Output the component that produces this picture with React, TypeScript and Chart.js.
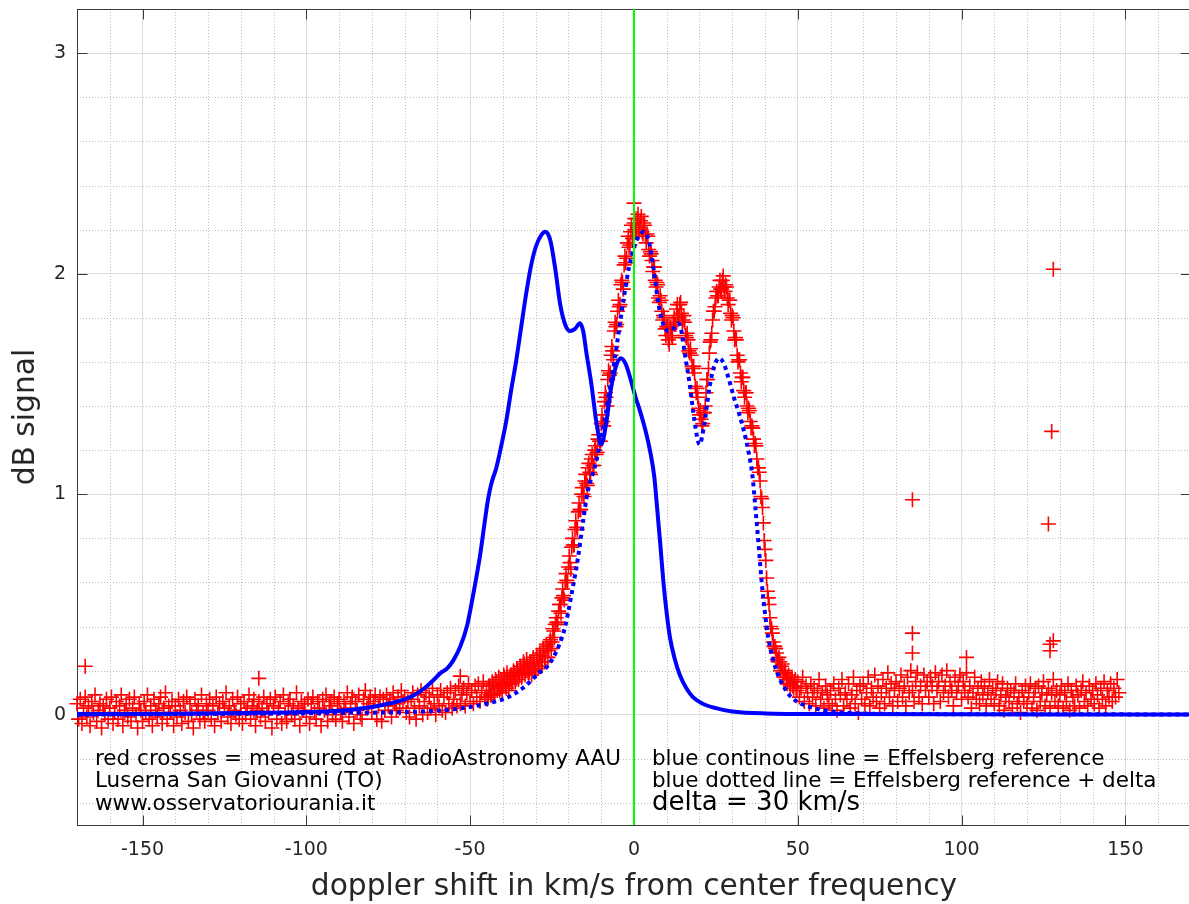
import React, { useEffect, useRef } from 'react';
import { Chart, registerables } from 'chart.js';

Chart.register(...registerables);

// ---- axes ----
const X_MIN = -170;
const X_MAX = 170;
const Y_MIN = -0.5;
const Y_MAX = 3.2;
const X_TICKS = [-150, -100, -50, 0, 50, 100, 150];
const Y_TICKS = [0, 1, 2, 3];

// ---- Effelsberg reference (blue continuous) ----
const DELTA = 30; // km/s shift for the dotted line
const REF_X = [-200, -170, -140, -120, -100, -90, -85, -80, -75, -70, -67, -64, -61, -59, -57, -55, -53, -51, -49, -47,
  -45.5, -44.5, -43.5, -42, -40.5, -39, -37.5, -36, -34.5, -33, -31.5, -30, -28.5, -27, -25.5, -24, -22.5, -21, -19.5, -18,
  -16.5, -15.5, -14.5, -13, -11.5, -10, -8.5, -7, -5.5, -4, -2.5, -1, 0.5, 2, 3.5, 5, 6.2, 7, 8, 9,
  10, 11, 12.5, 14, 16, 18, 21, 25, 30, 40, 60, 100, 170];
const REF_Y = [0, 0.003, 0.005, 0.008, 0.012, 0.018, 0.025, 0.035, 0.05, 0.07, 0.09, 0.12, 0.16, 0.19, 0.21, 0.25, 0.31, 0.40, 0.55, 0.72,
  0.88, 0.98, 1.05, 1.12, 1.22, 1.33, 1.47, 1.60, 1.75, 1.90, 2.03, 2.12, 2.17, 2.19, 2.15, 2.02, 1.86, 1.77, 1.74, 1.75,
  1.775, 1.74, 1.64, 1.50, 1.33, 1.226, 1.32, 1.48, 1.58, 1.617, 1.59, 1.52, 1.44, 1.37, 1.29, 1.19, 1.08, 0.95, 0.78, 0.60,
  0.46, 0.35, 0.25, 0.18, 0.12, 0.08, 0.05, 0.03, 0.015, 0.006, 0.003, 0.002, 0.001];

// ---- zero-shift marker (green vertical line) ----
const ZERO_X = [0, 0];
const ZERO_Y = [Y_MIN, Y_MAX];

// ---- measured data (red crosses), sampled every RED_STEP km/s ----
const RED_STEP = 0.5;
const RED_A_START = -170;
const RED_A = [
  0.05, -0.02, 0.07, -0.04, 0.03, 0.08, -0.01, 0.04, -0.05, 0.06, 0.01, 0.09, -0.03, 0.02, 0.05, -0.06, 0.04, 0.00, 0.07, -0.02,
  0.03, 0.08, -0.04, 0.01, 0.06, -0.02, 0.04, 0.09, -0.05, 0.02, 0.05, -0.01, 0.07, -0.03, 0.03, 0.08, 0.00, -0.06, 0.05, 0.02,
  -0.03, 0.06, 0.01, 0.09, -0.02, 0.04, -0.05, 0.07, 0.02, -0.01, 0.05, 0.08, -0.04, 0.03, 0.10, -0.02, 0.04, 0.01, 0.06, -0.05,
  0.04, -0.01, 0.07, 0.02, -0.04, 0.06, 0.01, 0.08, -0.03, 0.05, 0.00, -0.06, 0.07, 0.02, 0.04, -0.02, 0.09, 0.01, -0.03, 0.05,
  0.02, 0.07, -0.02, 0.04, -0.05, 0.08, 0.01, 0.05, -0.03, 0.06, 0.03, 0.10, -0.01, 0.04, -0.04, 0.07, 0.02, 0.00, 0.08, -0.02,
  0.05, -0.04, 0.06, 0.00, 0.03, 0.09, -0.02, 0.04, 0.07, -0.05, 0.02, 0.06, -0.01, 0.03, 0.08, -0.03, 0.05, 0.01, 0.07, -0.06,
  0.04, 0.08, -0.02, 0.03, 0.06, -0.04, 0.09, 0.01, -0.03, 0.05, 0.07, 0.00, 0.04, -0.02, 0.10, 0.03, -0.05, 0.06, 0.02, 0.05,
  -0.01, 0.07, -0.04, 0.05, 0.08, 0.01, -0.02, 0.06, 0.03, -0.05, 0.07, 0.02, 0.09, -0.03, 0.04, 0.06, 0.00, 0.08, -0.02, 0.05,
  0.07, 0.01, -0.03, 0.06, 0.03, 0.10, -0.01, 0.05, 0.08, -0.04, 0.06, 0.02, 0.09, 0.00, -0.02, 0.07, 0.11, 0.03, 0.05, 0.08,
  0.01, 0.06, 0.09, -0.02, 0.04, 0.08, -0.03, 0.07, 0.02, 0.09, 0.04, 0.07, -0.01, 0.10, 0.05, 0.02, 0.08, 0.03, 0.11, 0.06,
];
const RED_B_START = -70;
const RED_B = [
  0.08, 0.01, 0.06, -0.01, 0.07, 0.10, 0.03, -0.02, 0.09, 0.04, 0.11, 0.00, 0.06, 0.10, 0.01, 0.08, 0.03, 0.12, 0.05, 0.00,
  0.09, 0.04, 0.11, 0.02, 0.08, 0.01, 0.10, 0.05, 0.12, 0.03, 0.07, 0.11, 0.04, 0.13, 0.05, 0.09, 0.12, 0.04, 0.10, 0.14,
  0.06, 0.11, 0.05, 0.13, 0.08, 0.14, 0.06, 0.10, 0.15, 0.08,
];
const RED_C_START = -45;
const RED_C = [
  0.11, 0.08, 0.13, 0.09, 0.14, 0.10, 0.15, 0.12, 0.11, 0.16, 0.13, 0.17, 0.12, 0.16, 0.14, 0.18, 0.15, 0.19, 0.16, 0.20,
  0.18, 0.21, 0.19, 0.23, 0.20, 0.22, 0.19, 0.24, 0.21, 0.23, 0.20, 0.25, 0.22, 0.27, 0.24, 0.29, 0.26, 0.31, 0.29, 0.34,
  0.33, 0.38, 0.41, 0.42, 0.47, 0.50, 0.53, 0.54, 0.60, 0.61, 0.67, 0.69, 0.76, 0.77, 0.84, 0.85, 0.92, 0.93, 1.00, 1.00,
  1.06, 1.05, 1.12, 1.10, 1.16, 1.13, 1.20, 1.18, 1.25, 1.24, 1.32, 1.33, 1.42, 1.44, 1.52, 1.54, 1.63, 1.65, 1.74, 1.76,
  1.83, 1.85, 1.95, 1.96, 2.04, 2.05, 2.14, 2.12, 2.19, 2.16, 2.23, 2.19, 2.25, 2.20, 2.24, 2.19, 2.23, 2.17, 2.18, 2.11,
  2.10, 2.06, 2.03, 1.97, 1.96, 1.89, 1.90, 1.83, 1.81, 1.75, 1.76, 1.70, 1.75, 1.72, 1.78, 1.77, 1.84, 1.81, 1.86, 1.82,
  1.79, 1.78, 1.71, 1.70, 1.64, 1.63, 1.57, 1.55, 1.46, 1.44, 1.36, 1.34, 1.32, 1.37, 1.46, 1.52, 1.64, 1.70, 1.79, 1.83,
  1.89, 1.90, 1.94, 1.93, 1.97, 1.94, 1.95, 1.89, 1.88, 1.82, 1.81, 1.74, 1.71, 1.63, 1.61, 1.55, 1.53, 1.47, 1.46, 1.40,
  1.39, 1.33, 1.31, 1.25, 1.23, 1.16, 1.12, 1.06, 0.98, 0.87, 0.75, 0.62, 0.53, 0.44, 0.39, 0.33, 0.31, 0.28, 0.24, 0.24,
  0.22, 0.19, 0.20, 0.16, 0.17, 0.14, 0.16, 0.13, 0.15, 0.12,
];
// second pass of the core, interleaved a quarter-step later
const RED_C2_START = -44.75;
const RED_C2 = [
  0.07, 0.13, 0.09, 0.15, 0.10, 0.16, 0.11, 0.17, 0.12, 0.10, 0.18, 0.13, 0.19, 0.11, 0.17, 0.14, 0.20, 0.15, 0.21, 0.16,
  0.22, 0.17, 0.24, 0.18, 0.25, 0.19, 0.24, 0.18, 0.26, 0.20, 0.27, 0.21, 0.28, 0.22, 0.30, 0.24, 0.32, 0.26, 0.33, 0.30,
  0.39, 0.35, 0.44, 0.41, 0.50, 0.46, 0.57, 0.52, 0.64, 0.60, 0.72, 0.66, 0.80, 0.77, 0.88, 0.84, 0.96, 0.93, 1.03, 0.99,
  1.09, 1.04, 1.14, 1.09, 1.18, 1.13, 1.22, 1.19, 1.27, 1.24, 1.36, 1.31, 1.46, 1.40, 1.56, 1.55, 1.67, 1.61, 1.78, 1.77,
  1.88, 1.86, 1.97, 1.93, 2.08, 2.07, 2.17, 2.13, 2.22, 2.17, 2.25, 2.20, 2.27, 2.21, 2.26, 2.18, 2.22, 2.14, 2.17, 2.08,
  2.09, 2.01, 2.03, 1.94, 1.95, 1.87, 1.88, 1.79, 1.80, 1.72, 1.76, 1.68, 1.76, 1.71, 1.80, 1.77, 1.86, 1.80, 1.87, 1.78,
  1.81, 1.72, 1.73, 1.65, 1.66, 1.58, 1.58, 1.49, 1.48, 1.39, 1.38, 1.31, 1.37, 1.40, 1.52, 1.57, 1.69, 1.73, 1.83, 1.85,
  1.92, 1.90, 1.97, 1.93, 1.99, 1.92, 1.94, 1.86, 1.88, 1.79, 1.80, 1.70, 1.70, 1.60, 1.61, 1.51, 1.53, 1.44, 1.46, 1.37,
  1.38, 1.30, 1.30, 1.22, 1.22, 1.12, 1.10, 0.99, 0.94, 0.79, 0.70, 0.56, 0.50, 0.40, 0.37, 0.31, 0.30, 0.25, 0.26, 0.20,
  0.23, 0.17, 0.19, 0.14, 0.18, 0.13, 0.17, 0.12, 0.16, 0.11,
];
const RED_D_START = 50;
const RED_D = [
  0.15, 0.08, 0.12, 0.17, 0.06, 0.13, 0.10, 0.05, 0.14, 0.08, 0.12, 0.04, 0.11, 0.16, 0.07, 0.10, 0.03, 0.13, 0.09, 0.05,
  0.11, 0.04, 0.14, 0.07, 0.02, 0.12, 0.09, 0.16, 0.04, 0.10, 0.07, 0.14, 0.03, 0.09, 0.17, 0.05, 0.11, 0.01, 0.13, 0.07,
  0.14, 0.05, 0.10, 0.17, 0.04, 0.12, 0.08, 0.18, 0.06, 0.13, 0.03, 0.10, 0.16, 0.05, 0.12, 0.19, 0.08, 0.14, 0.04, 0.11,
  0.15, 0.06, 0.12, 0.18, 0.08, 0.13, 0.04, 0.17, 0.10, 0.20, 0.11, 0.06, 0.15, 0.19, 0.08, 0.13, 0.05, 0.18, 0.11, 0.15,
  0.08, 0.17, 0.13, 0.05, 0.19, 0.11, 0.15, 0.06, 0.18, 0.10, 0.13, 0.20, 0.08, 0.15, 0.11, 0.04, 0.17, 0.10, 0.13, 0.18,
  0.07, 0.15, 0.11, 0.19, 0.08, 0.13, 0.03, 0.10, 0.17, 0.07, 0.12, 0.05, 0.15, 0.09, 0.13, 0.04, 0.10, 0.16, 0.07, 0.12,
  0.05, 0.11, 0.15, 0.04, 0.09, 0.14, 0.02, 0.08, 0.12, 0.06, 0.11, 0.03, 0.10, 0.14, 0.05, 0.08, 0.01, 0.11, 0.06, 0.13,
  0.05, 0.10, 0.14, 0.03, 0.08, 0.12, 0.02, 0.13, 0.06, 0.10, 0.15, 0.04, 0.09, 0.12, 0.03, 0.10, 0.16, 0.06, 0.11, 0.04,
  0.09, 0.13, 0.03, 0.10, 0.06, 0.14, 0.02, 0.11, 0.08, 0.04, 0.13, 0.09, 0.03, 0.11, 0.15, 0.06, 0.10, 0.04, 0.13, 0.07,
  0.11, 0.05, 0.14, 0.09, 0.03, 0.12, 0.07, 0.15, 0.04, 0.11, 0.08, 0.14, 0.06, 0.12, 0.08, 0.16, 0.10,
];
// isolated outliers of the measurement
const OUT_X = [-167.5, -114.5, -53, 0, 85, 85, 85, 101.5, 128, 127.5, 126.5, 127, 128, 127];
const OUT_Y = [0.22, 0.165, 0.175, 2.32, 0.975, 0.37, 0.28, 0.26, 2.02, 1.285, 0.865, 0.32, 0.335, 0.29];

// ---- texts ----
const X_TITLE = 'doppler shift in km/s from center frequency';
const Y_TITLE = 'dB signal';
const NOTE_LEFT = ['red crosses = measured at RadioAstronomy AAU', 'Luserna San Giovanni (TO)', 'www.osservatoriourania.it'];
const NOTE_RIGHT = ['blue continous line = Effelsberg reference', 'blue dotted line = Effelsberg reference + delta'];
const NOTE_DELTA = 'delta = 30 km/s';

const TEXT_COLOR = '#262626';
const FONT = '"DejaVu Sans", "Liberation Sans", sans-serif';

function segment(start: number, values: number[]) {
  return values.map((v, i) => ({ x: start + i * RED_STEP, y: v }));
}

const decorPlugin = {
  id: 'decor',
  beforeDatasetsDraw(chart: any) {
    const { ctx, chartArea: a, scales } = chart;
    const xs = scales.x;
    const ys = scales.y;
    ctx.save();
    ctx.beginPath();
    ctx.rect(a.left, a.top, a.right - a.left, a.bottom - a.top);
    ctx.clip();
    // minor dotted grid
    ctx.strokeStyle = '#bdbdbd';
    ctx.lineWidth = 1;
    ctx.setLineDash([1, 2]);
    for (let k = -16; k <= 16; k++) {
      if (k % 5 === 0) continue;
      const px = Math.round(xs.getPixelForValue(k * 10)) + 0.5;
      ctx.beginPath();
      ctx.moveTo(px, a.top);
      ctx.lineTo(px, a.bottom);
      ctx.stroke();
    }
    for (let k = -2; k <= 15; k++) {
      if (k % 5 === 0) continue;
      const py = Math.round(ys.getPixelForValue(k * 0.2)) + 0.5;
      ctx.beginPath();
      ctx.moveTo(a.left, py);
      ctx.lineTo(a.right, py);
      ctx.stroke();
    }
    ctx.restore();

    // frame + inward tick marks (drawn under the data, like the original)
    ctx.save();
    ctx.strokeStyle = '#3a3a3a';
    ctx.lineWidth = 1;
    ctx.setLineDash([]);
    const L = Math.round(a.left) + 0.5;
    const T = Math.round(a.top) + 0.5;
    const B = Math.round(a.bottom) + 0.5;
    const R = a.right;
    ctx.strokeRect(L, T, R - L, B - T);
    ctx.beginPath();
    X_TICKS.forEach((v) => {
      const px = Math.round(xs.getPixelForValue(v)) + 0.5;
      ctx.moveTo(px, T); ctx.lineTo(px, T + 10);
      ctx.moveTo(px, B); ctx.lineTo(px, B - 10);
    });
    Y_TICKS.forEach((v) => {
      const py = Math.round(ys.getPixelForValue(v)) + 0.5;
      ctx.moveTo(L, py); ctx.lineTo(L + 10, py);
      ctx.moveTo(R, py); ctx.lineTo(R - 10, py);
    });
    ctx.stroke();
    ctx.restore();
  },
  afterDatasetsDraw(chart: any) {
    const { ctx, chartArea: a, scales } = chart;
    const xs = scales.x;
    ctx.save();
    ctx.fillStyle = '#000000';
    ctx.textAlign = 'left';
    ctx.textBaseline = 'alphabetic';
    ctx.font = `21.5px ${FONT}`;
    const leftX = a.left + 18;
    const rightX = xs.getPixelForValue(0) + 18;
    const base = [a.bottom - 60, a.bottom - 38, a.bottom - 15];
    NOTE_LEFT.forEach((t, i) => ctx.fillText(t, leftX, base[i]));
    NOTE_RIGHT.forEach((t, i) => ctx.fillText(t, rightX, base[i]));
    ctx.font = `26px ${FONT}`;
    ctx.fillText(NOTE_DELTA, rightX, base[2]);
    ctx.restore();
  },
  afterDraw(chart: any) {
    const { ctx, chartArea: a } = chart;
    ctx.save();
    ctx.fillStyle = TEXT_COLOR;
    ctx.font = `29.7px ${FONT}`;
    ctx.textAlign = 'center';
    ctx.textBaseline = 'alphabetic';
    ctx.fillText(X_TITLE, (a.left + a.right) / 2, a.bottom + 70);
    ctx.translate(34, (a.top + a.bottom) / 2);
    ctx.rotate(-Math.PI / 2);
    ctx.fillText(Y_TITLE, 0, 0);
    ctx.restore();
  },
};

export default function App() {
  const canvasRef = useRef<HTMLCanvasElement | null>(null);

  useEffect(() => {
    if (!canvasRef.current) return;
    const redData = [
      ...segment(RED_A_START, RED_A),
      ...segment(RED_B_START, RED_B),
      ...segment(RED_C_START, RED_C),
      ...segment(RED_C2_START, RED_C2),
      ...segment(RED_D_START, RED_D),
      ...OUT_X.map((x, i) => ({ x, y: OUT_Y[i] })),
    ];
    const refData = REF_X.map((x, i) => ({ x, y: REF_Y[i] }));
    const shiftedData = REF_X.map((x, i) => ({ x: x + DELTA, y: REF_Y[i] }));
    const zeroData = ZERO_X.map((x, i) => ({ x, y: ZERO_Y[i] }));

    const chart = new Chart(canvasRef.current, {
      type: 'scatter',
      data: {
        datasets: [
          {
            label: 'measured',
            data: redData,
            showLine: false,
            pointStyle: 'cross',
            pointRadius: 7.5,
            pointBorderWidth: 1.6,
            borderColor: '#ff0000',
            backgroundColor: '#ff0000',
            order: 4,
            clip: { left: 10, top: 0, right: 0, bottom: 0 },
          } as any,
          {
            label: 'reference',
            data: refData,
            showLine: true,
            borderColor: '#0000ff',
            borderWidth: 4,
            pointRadius: 0,
            cubicInterpolationMode: 'monotone',
            order: 3,
          },
          {
            label: 'reference + delta',
            data: shiftedData,
            showLine: true,
            borderColor: '#0000ff',
            borderWidth: 4,
            borderDash: [4, 4],
            borderCapStyle: 'butt',
            pointRadius: 0,
            cubicInterpolationMode: 'monotone',
            order: 2,
          },
          {
            label: 'zero',
            data: zeroData,
            showLine: true,
            borderColor: '#00ff00',
            borderWidth: 2,
            pointRadius: 0,
            order: 1,
          },
        ],
      },
      options: {
        animation: false,
        responsive: true,
        maintainAspectRatio: false,
        devicePixelRatio: 1,
        events: [],
        layout: { padding: { left: 0, top: 7, right: 8.4, bottom: 0 } },
        plugins: { legend: { display: false }, tooltip: { enabled: false } },
        scales: {
          x: {
            type: 'linear',
            min: X_MIN,
            max: X_MAX,
            afterBuildTicks: (s: any) => { s.ticks = X_TICKS.map((v) => ({ value: v })); },
            afterFit: (s: any) => { s.height = 79; s.paddingLeft = 0; s.paddingRight = 0; },
            grid: { color: '#dcdcdc', lineWidth: 1, drawTicks: false },
            border: { display: false },
            ticks: {
              padding: 14,
              color: TEXT_COLOR,
              font: { family: FONT, size: 19 },
              maxRotation: 0,
              autoSkip: false,
            },
          },
          y: {
            type: 'linear',
            min: Y_MIN,
            max: Y_MAX,
            afterBuildTicks: (s: any) => { s.ticks = Y_TICKS.map((v) => ({ value: v })); },
            afterFit: (s: any) => { s.width = 77; s.paddingTop = 0; s.paddingBottom = 0; },
            grid: { color: '#dcdcdc', lineWidth: 1, drawTicks: false },
            border: { display: false },
            ticks: {
              padding: 11,
              color: TEXT_COLOR,
              font: { family: FONT, size: 19 },
              autoSkip: false,
            },
          },
        },
      },
      plugins: [decorPlugin],
    });
    return () => chart.destroy();
  }, []);

  return (
    <div style={{ position: 'fixed', left: 0, top: 0, width: 1189, height: 904, overflow: 'hidden', background: '#ffffff' }}>
      <div style={{ position: 'relative', width: 1200, height: 904 }}>
        <canvas ref={canvasRef} />
      </div>
    </div>
  );
}
